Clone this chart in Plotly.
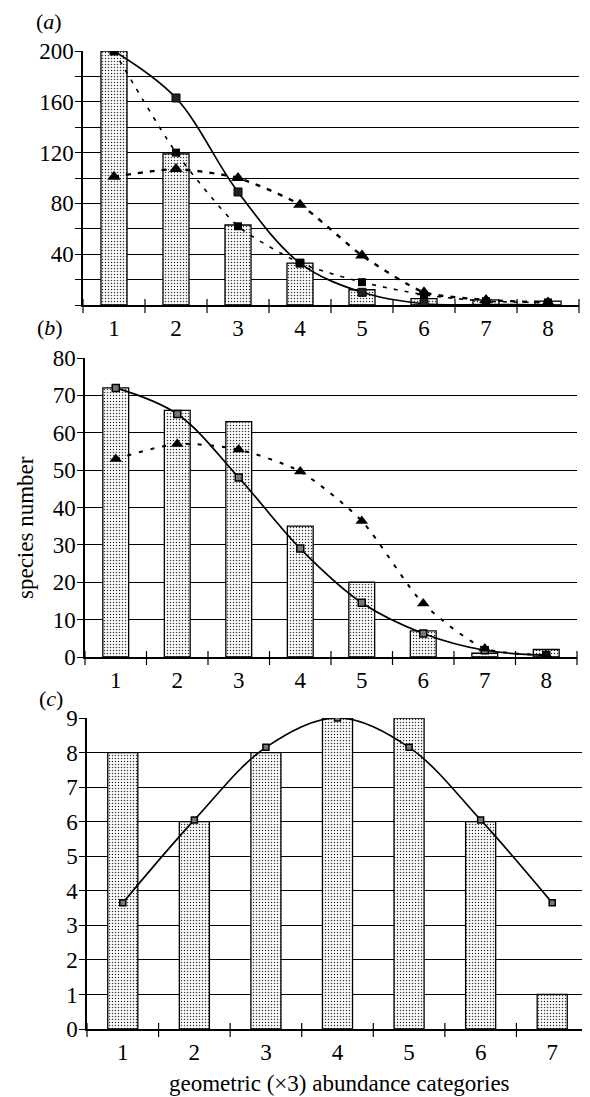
import plotly.graph_objects as go

# ---------------- data ----------------
cats_ab = [1, 2, 3, 4, 5, 6, 7, 8]
a_bars = [200, 119, 63, 33, 12, 5, 4, 3]
a_solid = [200, 163, 89, 33, 10, 1, 0.3, 0.1]
a_sq_dash = [200, 120, 62, 33, 18, 8, 3, 2]
a_tri = [101, 107, 100, 79, 39, 10, 4, 2]

b_bars = [72, 66, 63, 35, 20, 7, 1, 2]
b_solid = [72, 65, 48, 29, 14.5, 6.3, 1.8, 0.5]
b_tri = [53, 57, 55.5, 49.6, 36.4, 14.3, 2.3, 0.5]

cats_c = [1, 2, 3, 4, 5, 6, 7]
c_bars = [8, 6, 8, 9, 9, 6, 1]
c_curve = [3.65, 6.05, 8.15, 9.0, 8.15, 6.05, 3.65]

a_ticks = list(range(0, 201, 20))
a_ticktext = [str(v) if v in (40, 80, 120, 160, 200) else "" for v in a_ticks]
b_ticks = list(range(0, 81, 10))
c_ticks = list(range(0, 10))

# ---------------- layout geometry ----------------
# the page body has an 8px margin, so the figure is drawn 8px in and 8px smaller
OFF = 8
W, H = 590 - OFF, 1097 - OFF
FONT = "Liberation Serif"


def px_x(p):
    return (p - OFF) / W


def px_y(p):
    return 1 - (p - OFF) / H


def xdom(p0, p1):
    return [px_x(p0), px_x(p1)]


def ydom(ptop, pbot):
    return [px_y(pbot), px_y(ptop)]


panels = {
    "a": dict(x=(83, 579), y=(51, 305), n=len(cats_ab)),
    "b": dict(x=(85, 577), y=(358, 657), n=len(cats_ab)),
    "c": dict(x=(87, 588), y=(718, 1029), n=len(cats_c)),
}

bar_style = dict(
    color="white",
    line=dict(color="black", width=1.3),
    pattern=dict(shape=".", fgcolor="#333333", bgcolor="white", size=3, solidity=0.2),
)

fig = go.Figure()

# panel a
fig.add_trace(go.Bar(x=cats_ab, y=a_bars, width=0.42, marker=bar_style, xaxis="x", yaxis="y"))
fig.add_trace(go.Scatter(x=cats_ab, y=a_solid, mode="lines+markers", xaxis="x", yaxis="y",
                         line=dict(color="black", width=1.7, shape="spline", smoothing=1),
                         marker=dict(symbol="square", size=8, color="#222", line=dict(color="black", width=1))))
fig.add_trace(go.Scatter(x=cats_ab, y=a_sq_dash, mode="lines+markers", xaxis="x", yaxis="y",
                         line=dict(color="black", width=1.6, dash="4px,7px", shape="spline", smoothing=0.6),
                         marker=dict(symbol="square", size=8, color="black")))
fig.add_trace(go.Scatter(x=cats_ab, y=a_tri, mode="lines+markers", xaxis="x", yaxis="y",
                         line=dict(color="black", width=2.4, dash="5px,7px", shape="spline", smoothing=0.6),
                         marker=dict(symbol="triangle-up", size=12, color="black")))

# panel b
fig.add_trace(go.Bar(x=cats_ab, y=b_bars, width=0.42, marker=bar_style, xaxis="x2", yaxis="y2"))
fig.add_trace(go.Scatter(x=cats_ab, y=b_solid, mode="lines+markers", xaxis="x2", yaxis="y2",
                         line=dict(color="black", width=1.7, shape="spline", smoothing=1),
                         marker=dict(symbol="square", size=7, color="#777", line=dict(color="black", width=1.5))))
fig.add_trace(go.Scatter(x=cats_ab, y=b_tri, mode="lines+markers", xaxis="x2", yaxis="y2",
                         line=dict(color="black", width=2, dash="4px,8px", shape="spline", smoothing=0.7),
                         marker=dict(symbol="triangle-up", size=11, color="black")))

# panel c
fig.add_trace(go.Bar(x=cats_c, y=c_bars, width=0.42, marker=bar_style, xaxis="x3", yaxis="y3"))
fig.add_trace(go.Scatter(x=cats_c, y=c_curve, mode="lines+markers", xaxis="x3", yaxis="y3",
                         line=dict(color="black", width=1.7, shape="spline", smoothing=1),
                         marker=dict(symbol="square", size=6, color="#777", line=dict(color="black", width=1.5))))

tickfont = dict(family=FONT, size=23, color="black")


def xaxis(key, anchor):
    p = panels[key]
    n = p["n"]
    return dict(domain=xdom(*p["x"]), anchor=anchor, range=[0.5, n + 0.5],
                tickvals=list(range(1, n + 1)), ticks="", showgrid=False, zeroline=False,
                showline=True, linecolor="black", linewidth=1.5, tickfont=tickfont,
                ticklabelstandoff=2, automargin=False, fixedrange=True)


def yaxis(key, anchor, rng, tickvals, ticktext=None):
    p = panels[key]
    d = dict(domain=ydom(*p["y"]), anchor=anchor, range=rng, tickvals=tickvals,
             ticks="outside", ticklen=6, tickwidth=1.2, tickcolor="black",
             showgrid=True, gridcolor="black", gridwidth=1.3, zeroline=False,
             showline=True, linecolor="black", linewidth=1.5, tickfont=tickfont,
             ticklabelstandoff=-3, automargin=False, fixedrange=True)
    if ticktext is not None:
        d["ticktext"] = ticktext
    return d


# crossing tick marks at category boundaries along each x axis
shapes = []
for key in ("a", "b", "c"):
    p = panels[key]
    n = p["n"]
    x0p, x1p = p["x"]
    ybot = p["y"][1]
    for k in range(n + 1):
        bx = 0.5 + k
        px = x0p + (bx - 0.5) / n * (x1p - x0p)
        shapes.append(dict(type="line", xref="paper", yref="paper",
                           x0=px_x(px), x1=px_x(px), y0=px_y(ybot + 8), y1=px_y(ybot - 6),
                           line=dict(color="black", width=1.2)))

annfont = dict(family=FONT, size=22, color="black")


def ann(text, x, y, **kw):
    d = dict(text=text, x=px_x(x), y=px_y(y), xref="paper", yref="paper",
             xanchor="left", yanchor="middle", showarrow=False, font=annfont)
    d.update(kw)
    return d


annotations = [
    ann("(<i>a</i>)", 34, 21),
    ann("(<i>b</i>)", 35, 327),
    ann("(<i>c</i>)", 37, 698),
    ann("species number", 25, 528, xanchor="center", textangle=-90,
        font=dict(family=FONT, size=23, color="black")),
    ann("geometric (×3) abundance categories", 339, 1083, xanchor="center",
        font=dict(family=FONT, size=23, color="black")),
]

fig.update_layout(
    template="none",
    width=W, height=H,
    margin=dict(l=0, r=0, t=0, b=0, autoexpand=False),
    paper_bgcolor="white", plot_bgcolor="white",
    showlegend=False, barmode="overlay",
    xaxis=xaxis("a", "y"), yaxis=yaxis("a", "x", [0, 200], a_ticks, a_ticktext),
    xaxis2=xaxis("b", "y2"), yaxis2=yaxis("b", "x2", [0, 80], b_ticks),
    xaxis3=xaxis("c", "y3"), yaxis3=yaxis("c", "x3", [0, 9], c_ticks),
    shapes=shapes, annotations=annotations,
    font=dict(family=FONT, color="black"),
)

fig.write_html("out.html")
